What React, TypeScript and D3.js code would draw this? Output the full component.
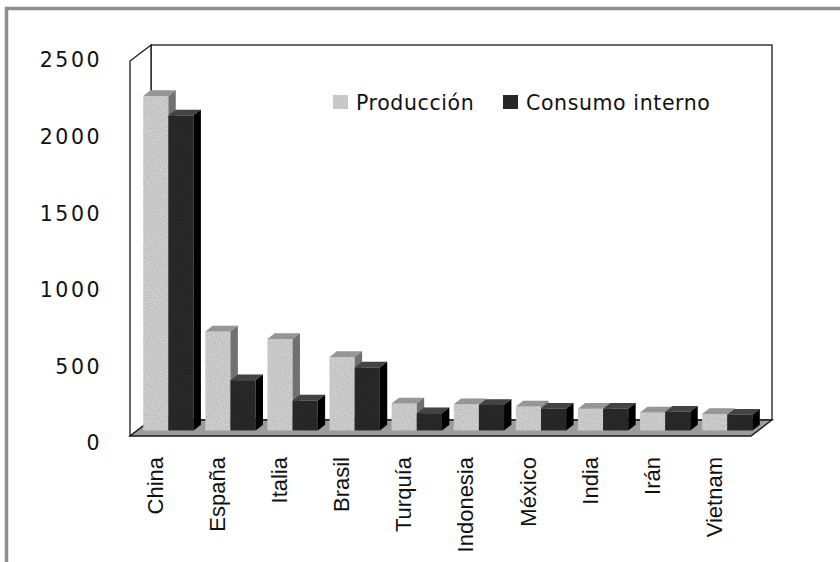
import * as d3 from "d3";

const categories = ["China", "España", "Italia", "Brasil", "Turquía", "Indonesia", "México", "India", "Irán", "Vietnam"];
const produccion = [2230, 660, 610, 490, 180, 175, 160, 145, 120, 110];
const consumo = [2100, 335, 200, 420, 115, 170, 145, 145, 125, 105];
const yTicks = [0, 500, 1000, 1500, 2000, 2500];
const seriesNames = ["Producción", "Consumo interno"];

const WIDTH = 840;
const HEIGHT = 562;

// front edge of the 3D box, and the depth offset of the back wall
const LEFT = 130;
const RIGHT = 751;
const FLOOR = 436;
const TOP = 61;
const DX = 21;
const DY = -16;
// bars sit between these depth fractions
const F0 = 0.35;
const F1 = 0.7;

const faces = [
  { front: "#dadada", top: "#a4a4a4", side: "#7c7c7c" },
  { front: "#2f2f2f", top: "#4c4c4c", side: "#0e0e0e" },
];

const pts = (p: number[][]) => p.map((d) => d.join(",")).join(" ");

export default function App() {
  const x = d3.scaleBand<string>().domain(categories).range([LEFT, RIGHT]).paddingInner(0.19).paddingOuter(0.095);
  const y = d3.scaleLinear().domain([0, 2500]).range([FLOOR, TOP]);
  // tick labels sit a little apart from the front edge in the original
  const yLabel = d3.scaleLinear().domain([0, 2500]).range([443, 60]);

  const bw = x.bandwidth() / 2;
  const ox = F0 * DX;
  const oy = F0 * DY;
  const ddx = (F1 - F0) * DX;
  const ddy = (F1 - F0) * DY;

  const bars = categories.flatMap((c, i) =>
    [produccion[i], consumo[i]].map((v, k) => {
      const x0 = (x(c) ?? 0) + k * bw + ox;
      const x1 = x0 + bw;
      const yt = y(v) + oy;
      const yb = y(0) + oy;
      return { key: `${c}-${k}`, k, x0, x1, yt, yb };
    })
  );

  const legendX = [333, 503];

  return (
    <div style={{ position: "absolute", left: 0, top: 0 }}>
      <svg width={WIDTH} height={HEIGHT} style={{ display: "block", background: "#fff" }}>
        <defs>
          {/* printed-paper speckle on the bars */}
          <filter id="grain" x="0" y="0" width="100%" height="100%">
            <feTurbulence type="fractalNoise" baseFrequency="0.85" numOctaves={2} seed={3} result="n" />
            <feColorMatrix
              in="n"
              type="matrix"
              values="0 0 0 0 0  0 0 0 0 0  0 0 0 0 0  0 0 0 0.45 -0.05"
              result="na"
            />
            <feComposite in="na" in2="SourceGraphic" operator="in" result="nc" />
            <feMerge>
              <feMergeNode in="SourceGraphic" />
              <feMergeNode in="nc" />
            </feMerge>
          </filter>
        </defs>

        <path d={`M6.5,${HEIGHT} V8.5 H${WIDTH}`} fill="none" stroke="#8e8e8e" strokeWidth={3.5} />

        {/* walls and floor */}
        <rect x={LEFT + DX} y={TOP + DY} width={RIGHT - LEFT} height={FLOOR - TOP} fill="#fff" stroke="#1a1a1a" strokeWidth={1.3} />
        <polygon
          points={pts([[LEFT, FLOOR], [LEFT, TOP], [LEFT + DX, TOP + DY], [LEFT + DX, FLOOR + DY]])}
          fill="#fff"
          stroke="#1a1a1a"
          strokeWidth={1.3}
        />
        <polygon
          points={pts([[LEFT, FLOOR], [RIGHT, FLOOR], [RIGHT + DX, FLOOR + DY], [LEFT + DX, FLOOR + DY]])}
          fill="#9c9c9c"
          stroke="#1a1a1a"
          strokeWidth={1.3}
        />

        <g filter="url(#grain)">
          {bars.map((b) => (
            <g key={b.key}>
              <rect x={b.x0} y={b.yt} width={b.x1 - b.x0} height={b.yb - b.yt} fill={faces[b.k].front} />
              <polygon
                points={pts([[b.x0, b.yt], [b.x1, b.yt], [b.x1 + ddx, b.yt + ddy], [b.x0 + ddx, b.yt + ddy]])}
                fill={faces[b.k].top}
              />
              <polygon
                points={pts([[b.x1, b.yt], [b.x1 + ddx, b.yt + ddy], [b.x1 + ddx, b.yb + ddy], [b.x1, b.yb]])}
                fill={faces[b.k].side}
              />
            </g>
          ))}
        </g>

        {yTicks.map((t) => (
          <text
            key={t}
            x={102}
            y={yLabel(t)}
            dy="0.36em"
            textAnchor="end"
            fontFamily="DejaVu Sans"
            fontSize={20.5}
            letterSpacing={2.5}
            fill="#111"
          >
            {t}
          </text>
        ))}

        {categories.map((c) => (
          <text
            key={c}
            transform={`translate(${(x(c) ?? 0) + x.bandwidth() / 2 - 6},457) rotate(-90)`}
            dy="0.36em"
            textAnchor="end"
            fontFamily="Liberation Sans"
            fontSize={22}
            fill="#111"
          >
            {c}
          </text>
        ))}

        {seriesNames.map((s, i) => (
          <g key={s}>
            <rect x={legendX[i]} y={95} width={15} height={14} fill={faces[i].front} filter="url(#grain)" />
            <text x={legendX[i] + 23} y={110} fontFamily="DejaVu Sans" fontSize={20.5} letterSpacing={0.6} fill="#111">
              {s}
            </text>
          </g>
        ))}
      </svg>
    </div>
  );
}
